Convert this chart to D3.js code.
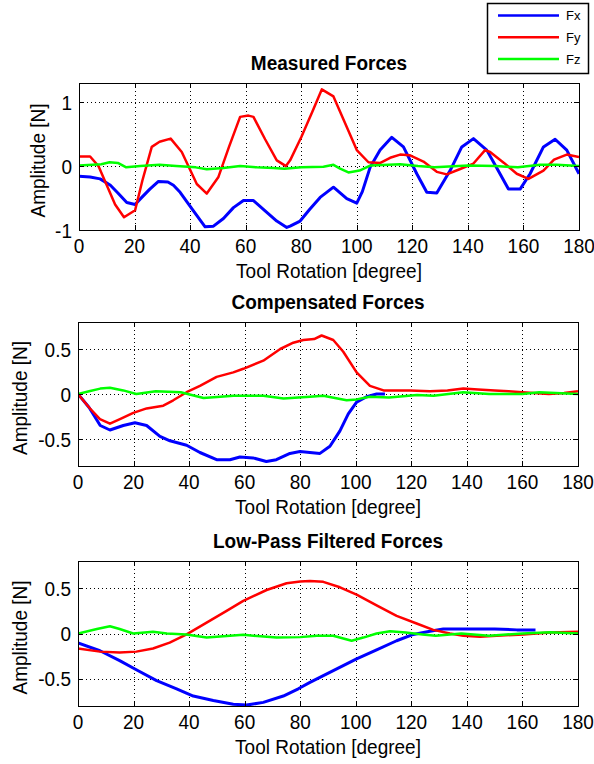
<!DOCTYPE html>
<html>
<head>
<meta charset="utf-8">
<script src="https://cdn.jsdelivr.net/npm/d3@7"></script>
<style>
  body { margin: 0; background: #fff; }
  text { font-family: "Liberation Sans", Arial, Helvetica, sans-serif; fill: #000; }
</style>
</head>
<body>
<svg id="fig" width="594" height="764"></svg>
<script>
// ---- data -------------------------------------------------------------
const seriesNames = ["Fx", "Fy", "Fz"];
const xTickValues = [0, 20, 40, 60, 80, 100, 120, 140, 160, 180];
const measuredTickValues = [-1, 0, 1];
const forceTickValues = [-0.5, 0, 0.5];

// [tool rotation (deg), amplitude (N)]
const measuredFx = [[0,-0.16],[4,-0.17],[7.6,-0.2],[11.3,-0.3],[14,-0.42],[17.2,-0.57],[20.2,-0.6],[22.6,-0.49],
  [25.5,-0.36],[28.6,-0.24],[32,-0.25],[34,-0.3],[36.4,-0.41],[41.2,-0.7],[45.4,-0.95],[48.4,-0.94],[52,-0.82],
  [55.6,-0.65],[59.2,-0.54],[62.8,-0.54],[67,-0.7],[71.2,-0.86],[74.8,-0.96],[76,-0.94],[79.6,-0.86],[83,-0.68],
  [86.8,-0.49],[91.6,-0.33],[96.4,-0.51],[100,-0.58],[102,-0.4],[104.8,-0.02],[108.4,0.25],[112.6,0.45],
  [116.8,0.3],[121.6,-0.12],[125.2,-0.41],[128.8,-0.42],[133.6,-0.07],[137.8,0.3],[142,0.43],[146.8,0.25],
  [150,0],[154.6,-0.36],[158.8,-0.36],[162.4,-0.12],[167.2,0.3],[171.4,0.42],[175.6,0.25],[180,-0.12]];
const measuredFy = [[0,0.15],[4,0.15],[7,0],[10,-0.3],[13,-0.6],[16.2,-0.8],[20.2,-0.69],[22.8,-0.23],[26.2,0.3],
  [29,0.38],[33,0.43],[37,0.22],[42.4,-0.28],[46,-0.43],[50.2,-0.17],[54,0.3],[58,0.77],[61,0.79],[62.8,0.77],
  [67,0.42],[71.2,0.09],[74.5,0],[76,0.09],[80,0.45],[84,0.85],[87.4,1.2],[91.6,1.09],[96,0.65],[100,0.25],
  [104.2,0.06],[108.5,0.05],[112,0.13],[115.6,0.18],[119,0.17],[124,0.07],[128.8,-0.09],[132.4,-0.13],
  [137,-0.05],[142,0.04],[146.2,0.25],[148,0.22],[153,0.05],[157.6,-0.12],[161.8,-0.2],[167.2,-0.07],
  [171,0.1],[175.6,0.18],[180,0.14]];
const measuredFz = [[0,0.01],[8,0.03],[11,0.06],[14,0.05],[17,-0.02],[22,0],[29,0.02],[35,0],[42,-0.02],[46,-0.05],
  [52,-0.03],[58,0],[64,-0.02],[70,-0.03],[74,-0.04],[80,-0.02],[88,-0.01],[91.6,0.02],[94,-0.04],[97,-0.1],
  [101,-0.07],[105,0.01],[115.6,0.03],[122,0],[128,-0.02],[140,0.01],[150,0],[158,-0.02],[166,0.02],[172,0.02],[180,0]];

const compensatedFx = [[0,0],[4,-0.15],[8,-0.35],[11.5,-0.4],[16.3,-0.35],[20.5,-0.32],[24.7,-0.35],[29.5,-0.47],
  [33.1,-0.52],[39.1,-0.57],[43.9,-0.65],[49.9,-0.73],[54.7,-0.73],[58.3,-0.7],[63,-0.71],[67.8,-0.75],[71.4,-0.73],
  [76.3,-0.66],[79.9,-0.64],[87.1,-0.66],[90.7,-0.58],[94.3,-0.41],[97.3,-0.22],[100.3,-0.09],[103.9,-0.03],
  [107.5,0],[110.5,0]];
const compensatedFy = [[0,0],[4,-0.15],[7.9,-0.28],[11.5,-0.33],[15.1,-0.28],[19.9,-0.21],[24.7,-0.16],[30.7,-0.13],
  [34.3,-0.07],[39.1,0.02],[43.9,0.09],[49.9,0.19],[55.9,0.24],[59.5,0.28],[66.7,0.37],[72.8,0.5],[77.5,0.57],
  [81.1,0.6],[85,0.61],[87.7,0.65],[91.9,0.6],[95.5,0.47],[100.3,0.24],[105.1,0.09],[110,0.04],[119.5,0.04],
  [126.7,0.03],[133,0.04],[138.7,0.06],[144,0.05],[150,0.04],[155,0.03],[160,0.02],[169.5,0],[175,0.01],[180,0.03]];
const compensatedFz = [[0,0],[4,0.03],[8,0.06],[11.5,0.07],[16.3,0.04],[21,0],[28,0.03],[37,0.02],[45.2,-0.045],
  [56,-0.02],[66.7,-0.02],[74,-0.05],[83.5,-0.03],[88.3,-0.02],[96.7,-0.07],[100.3,-0.06],[105,-0.03],[112,-0.04],
  [122,-0.01],[128,-0.02],[138.7,0.02],[148,0],[160,0],[166,0.02],[180,0]];

const filteredFx = [[0,-0.105],[7.9,-0.19],[15,-0.3],[21,-0.4],[28.3,-0.52],[35.5,-0.61],[41.5,-0.69],[48.7,-0.74],
  [55.9,-0.78],[60.7,-0.79],[66.7,-0.76],[73.9,-0.69],[79.3,-0.61],[83.5,-0.54],[91.9,-0.41],[100.3,-0.28],
  [107.5,-0.18],[114.7,-0.08],[120.7,-0.01],[126.7,0.025],[131.5,0.05],[150,0.05],[158,0.04],[164.7,0.04]];
const filteredFy = [[0,-0.165],[7.9,-0.2],[15,-0.21],[21,-0.2],[27,-0.165],[33,-0.1],[39.1,-0.01],[46.3,0.12],
  [53.5,0.25],[59.5,0.36],[67.9,0.48],[75.1,0.555],[80,0.575],[83.5,0.58],[88.3,0.57],[94.3,0.51],[100.3,0.43],
  [107.5,0.31],[114.7,0.195],[121.9,0.11],[127.9,0.04],[133.9,0],[138.7,-0.025],[144.7,-0.035],[150.7,-0.025],
  [160.3,-0.01],[169.9,0.01],[180,0.02]];
const filteredFz = [[0,0],[6.8,0.05],[11.5,0.08],[15,0.05],[19.9,0],[27,0.02],[32,0],[39,-0.01],[46.3,-0.045],
  [59.5,-0.015],[71.5,-0.045],[80,-0.04],[86,-0.025],[91.9,-0.025],[98.5,-0.08],[102.7,-0.045],[107.5,0],
  [112.3,0.025],[118,0.01],[124,-0.01],[128.8,-0.025],[138,0],[148,-0.025],[160,0],[170,0.015],[180,0]];

// ---- styling ----------------------------------------------------------
const seriesColor = { Fx: "#0000ff", Fy: "#ff0000", Fz: "#00ff00" };
const seriesWidth = { Fx: 3, Fy: 2.5, Fz: 2.5 };
const stretch = 1.1;           // text is slightly taller than the stock font
const tickFont = 19, labelFont = 19, titleFont = 19, legendFont = 13;

const panels = [
  { title: "Measured Forces", data: [measuredFx, measuredFy, measuredFz],
    yDomain: [-1, 1.3], yTicks: measuredTickValues, left: 79, right: 579, top: 83, bottom: 230, ylabelX: 45 },
  { title: "Compensated Forces", data: [compensatedFx, compensatedFy, compensatedFz],
    yDomain: [-0.8, 0.8], yTicks: forceTickValues, left: 78, right: 578, top: 322, bottom: 466, ylabelX: 27 },
  { title: "Low-Pass Filtered Forces", data: [filteredFx, filteredFy, filteredFz],
    yDomain: [-0.8, 0.8], yTicks: forceTickValues, left: 78, right: 578, top: 561, bottom: 706, ylabelX: 27 }
];

const svg = d3.select("#fig");
svg.append("rect").attr("width", 594).attr("height", 764).attr("fill", "#fff");

function putText(g, str, x, y, opts = {}) {
  const t = g.append("text")
    .attr("transform", `translate(${x},${y})${opts.rotate ? ` rotate(${opts.rotate})` : ""} scale(1,${stretch})`)
    .attr("font-size", opts.size || tickFont)
    .attr("text-anchor", opts.anchor || "middle")
    .text(str);
  if (opts.bold) t.attr("font-weight", "bold");
  if (opts.dy) t.attr("dy", opts.dy);
  return t;
}

panels.forEach((p, i) => {
  const x = d3.scaleLinear().domain([0, 180]).range([p.left, p.right]);
  const y = d3.scaleLinear().domain(p.yDomain).range([p.bottom, p.top]);
  const g = svg.append("g");

  // dotted grid
  const grid = g.append("g").attr("stroke", "#000").attr("stroke-width", 1)
    .attr("stroke-dasharray", "1,3").attr("shape-rendering", "crispEdges");
  xTickValues.filter(v => v > 0 && v < 180).forEach(v => {
    const px = Math.round(x(v)) + 0.5;
    grid.append("line").attr("x1", px).attr("x2", px).attr("y1", p.top).attr("y2", p.bottom);
  });
  p.yTicks.forEach(v => {
    const py = Math.round(y(v)) + 0.5;
    grid.append("line").attr("x1", p.left).attr("x2", p.right).attr("y1", py).attr("y2", py);
  });

  // series
  const clipId = "clip" + i;
  svg.append("clipPath").attr("id", clipId).append("rect")
    .attr("x", p.left).attr("y", p.top).attr("width", p.right - p.left).attr("height", p.bottom - p.top);
  const line = d3.line().x(d => x(d[0])).y(d => y(d[1]));
  p.data.forEach((series, k) => {
    const name = seriesNames[k];
    g.append("path").datum(series)
      .attr("clip-path", `url(#${clipId})`)
      .attr("fill", "none")
      .attr("stroke", seriesColor[name])
      .attr("stroke-width", seriesWidth[name])
      .attr("stroke-linejoin", "round")
      .attr("d", line);
  });

  // axes box and inward ticks
  const axisG = g.append("g").attr("stroke", "#000").attr("stroke-width", 1).attr("shape-rendering", "crispEdges");
  axisG.append("rect").attr("x", p.left + 0.5).attr("y", p.top + 0.5)
    .attr("width", p.right - p.left).attr("height", p.bottom - p.top).attr("fill", "none");
  const tl = 5;
  xTickValues.forEach(v => {
    const px = Math.round(x(v)) + 0.5;
    axisG.append("line").attr("x1", px).attr("x2", px).attr("y1", p.bottom).attr("y2", p.bottom - tl);
    axisG.append("line").attr("x1", px).attr("x2", px).attr("y1", p.top).attr("y2", p.top + tl);
  });
  p.yTicks.forEach(v => {
    const py = Math.round(y(v)) + 0.5;
    axisG.append("line").attr("x1", p.left).attr("x2", p.left + tl).attr("y1", py).attr("y2", py);
    axisG.append("line").attr("x1", p.right).attr("x2", p.right - tl).attr("y1", py).attr("y2", py);
  });

  // tick labels
  xTickValues.forEach(v => putText(g, String(v), x(v), p.bottom + 23, { size: tickFont }));
  p.yTicks.forEach(v => putText(g, String(v), p.left - 7, y(v), { size: tickFont, anchor: "end", dy: "0.36em" }));

  // axis titles and panel title
  const midX = (p.left + p.right) / 2, midY = (p.top + p.bottom) / 2;
  putText(g, "Tool Rotation [degree]", midX, p.bottom + 48, { size: labelFont });
  putText(g, "Amplitude [N]", p.ylabelX, midY + 4, { size: labelFont, rotate: -90 });
  putText(g, p.title, midX, p.top - 13, { size: titleFont, bold: true });
});

// legend
const lg = svg.append("g");
lg.append("rect").attr("x", 487.5).attr("y", 3.5).attr("width", 101).attr("height", 70)
  .attr("fill", "#fff").attr("stroke", "#000").attr("stroke-width", 1.5);
const legendY = d3.scalePoint().domain(seriesNames).range([15.5, 59]);
seriesNames.forEach(name => {
  lg.append("line").attr("x1", 498).attr("x2", 559).attr("y1", legendY(name)).attr("y2", legendY(name))
    .attr("stroke", seriesColor[name]).attr("stroke-width", 2.5);
  lg.append("text").attr("x", 566).attr("y", legendY(name) + 4.5)
    .attr("font-size", legendFont).text(name);
});
</script>
</body>
</html>
